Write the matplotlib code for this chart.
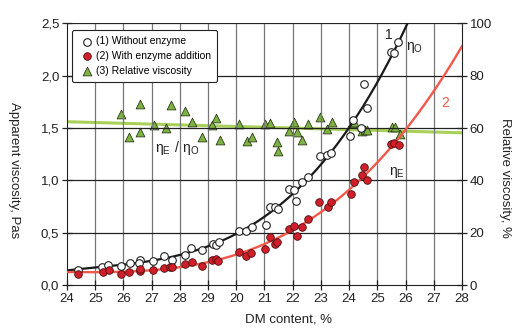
import numpy as np
import matplotlib
matplotlib.use("Agg")
import matplotlib.pyplot as plt

plt.rcParams['font.family'] = ['Liberation Sans', 'DejaVu Sans']
plt.rcParams['mathtext.fontset'] = 'custom'
plt.rcParams['mathtext.rm'] = 'Liberation Sans'

# x positions on the DM axis (ticks 24..38 are labelled as printed below)
tick_pos = np.arange(24, 39)
tick_labels = ['24', '25', '26', '27', '28', '29', '20', '21', '22', '23',
               '24', '25', '26', '27', '28']

# (1) without enzyme, apparent viscosity, Pas
x_noenz = [24.4, 25.23, 25.46, 25.9, 26.23, 26.58, 26.57, 27.05, 27.44, 27.74,
           28.2, 28.4, 28.8, 29.17, 29.27, 29.38, 30.09, 30.35, 30.55, 31.06,
           31.18, 31.39, 31.47, 31.86, 32.04, 32.12, 32.33, 32.53, 32.97, 33.21,
           33.36, 34.04, 34.12, 34.41, 34.65, 34.51, 35.48, 35.59, 35.75]
y_noenz = [0.14, 0.175, 0.19, 0.18, 0.21, 0.24, 0.21, 0.23, 0.28, 0.24,
           0.29, 0.35, 0.33, 0.39, 0.38, 0.41, 0.52, 0.52, 0.55, 0.57,
           0.75, 0.75, 0.73, 0.92, 0.91, 0.80, 0.98, 1.03, 1.23, 1.24,
           1.26, 1.42, 1.58, 1.50, 1.69, 1.92, 2.23, 2.22, 2.32]

# (2) with enzyme addition, apparent viscosity, Pas
x_enz = [24.4, 25.26, 25.5, 25.93, 26.19, 26.58, 26.58, 27.05, 27.44, 27.66,
         27.74, 28.2, 28.43, 28.8, 29.14, 29.27, 29.37, 30.09, 30.35, 30.53,
         31.03, 31.2, 31.39, 31.43, 31.88, 32.06, 32.14, 32.33, 32.53, 32.94,
         33.24, 33.36, 34.08, 34.16, 34.45, 34.53, 34.65, 35.48, 35.6, 35.77]
y_enz = [0.11, 0.12, 0.14, 0.11, 0.12, 0.13, 0.15, 0.14, 0.16, 0.17,
         0.175, 0.20, 0.22, 0.185, 0.24, 0.25, 0.23, 0.32, 0.28, 0.31,
         0.34, 0.46, 0.39, 0.41, 0.535, 0.56, 0.47, 0.55, 0.63, 0.79,
         0.75, 0.79, 0.87, 0.98, 1.05, 1.13, 1.00, 1.35, 1.36, 1.34]

# (3) relative viscosity, %
x_rel = [25.93, 26.58, 26.2, 26.6, 27.09, 27.5, 27.68, 28.2, 28.44, 28.8,
         29.15, 29.27, 29.41, 30.11, 30.39, 30.55, 31.03, 31.2, 31.45, 31.47,
         31.86, 32.04, 32.15, 32.33, 32.53, 32.97, 33.21, 33.39, 34.1, 34.18,
         34.47, 34.56, 34.65, 35.51, 35.62, 35.8]
y_rel = [65.3, 69.1, 56.5, 58.4, 61.2, 59.9, 68.8, 66.7, 62.2, 56.5,
         61.2, 63.7, 55.5, 61.4, 55.1, 56.7, 61.4, 62.1, 54.8, 51.4,
         59.0, 62.2, 58.6, 55.5, 61.6, 64.4, 59.5, 62.2, 61.8, 62.5,
         59.0, 59.2, 59.2, 60.5, 60.5, 57.7]

# trend lines fitted to the measurements
fit_noenz = np.poly1d(np.polyfit(x_noenz, y_noenz, 3))
fit_enz = np.poly1d(np.polyfit(x_enz, y_enz, 3))
fit_rel = np.poly1d(np.polyfit(x_rel, y_rel, 1))

fig = plt.figure(figsize=(5.16, 3.29), dpi=100)
ax = fig.add_axes([0.1298, 0.1337, 0.7655, 0.7949])
ax2 = ax.twinx()

xs = np.linspace(24, 38, 300)

ax.set_xlim(24, 38)
ax.set_ylim(0, 2.5)
ax2.set_ylim(0, 100)

# grid: grey verticals, black horizontals
for xv in tick_pos[1:-1]:
    ax.axvline(xv, color='#777777', lw=0.9, zorder=0)
for yv in np.arange(0.5, 2.51, 0.5):
    ax.axhline(yv, color='#222222', lw=0.9, zorder=0)

ax2.plot(xs, fit_rel(xs), color='#a9d15a', lw=2.2, zorder=2)
ax2.scatter(x_rel, y_rel, marker='^', s=40, facecolor='#7cb342',
            edgecolor='#2f3a1a', lw=0.6, zorder=3)

ax.plot(xs, fit_noenz(xs), color='#1a1a1a', lw=1.6, zorder=4)
ax.plot(xs, fit_enz(xs), color='#f2584a', lw=1.7, zorder=4)
ax.scatter(x_noenz, y_noenz, s=30, facecolor='white', edgecolor='#222222',
           lw=0.8, zorder=5)
ax.scatter(x_enz, y_enz, s=30, facecolor='#d01f2a', edgecolor='#4a1010',
           lw=0.6, zorder=5)

ax.set_zorder(ax2.get_zorder() + 1)
ax.patch.set_visible(False)

ax.set_xticks(tick_pos)
ax.set_xticklabels(tick_labels)
ax.set_yticks(np.arange(0, 2.51, 0.5))
ax.set_yticklabels(['0,0', '0,5', '1,0', '1,5', '2,0', '2,5'])
ax2.set_yticks(np.arange(0, 101, 20))

for a in (ax, ax2):
    a.tick_params(direction='inout', length=7, width=0.9, labelsize=9.5,
                  colors='#222222', pad=2)
    for s in a.spines.values():
        s.set_visible(False)
ax.spines['bottom'].set_visible(True)
ax.spines['bottom'].set_color('#222222')
ax.spines['left'].set_visible(True)
ax.spines['left'].set_color('#222222')
ax2.spines['right'].set_visible(True)
ax2.spines['right'].set_color('#222222')

ax.set_xlabel('DM content, %', fontsize=9.5, color='#222222')
ax.xaxis.set_label_coords(0.56, -0.11)
ax.set_ylabel('Apparent viscosity, Pas', fontsize=9.5, rotation=270,
              color='#222222', va='center')
ax.yaxis.set_label_coords(-0.135, 0.44)
ax2.set_ylabel('Relative viscosity, %', fontsize=9.5, rotation=270,
               color='#222222', va='center')
ax2.yaxis.set_label_coords(1.11, 0.41)

# curve labels
ax.text(35.4, 2.39, '1', fontsize=10, color='#222222', ha='center', va='center')
ax.text(36.3, 2.27, r'$\mathrm{\eta_O}$', fontsize=10, color='#222222',
        ha='center', va='center')
ax.text(37.4, 1.74, '2', fontsize=10, color='#f2584a', ha='center', va='center')
ax.text(35.7, 1.08, r'$\mathrm{\eta_E}$', fontsize=10, color='#222222',
        ha='center', va='center')
ax.text(27.9, 1.31, r'$\mathrm{\eta_E\ /\ \eta_O}$', fontsize=10,
        color='#222222', ha='center', va='center')

# legend
h1 = ax.scatter([], [], s=30, facecolor='white', edgecolor='#222222', lw=0.8)
h2 = ax.scatter([], [], s=30, facecolor='#d01f2a', edgecolor='#4a1010', lw=0.6)
h3 = ax.scatter([], [], marker='^', s=40, facecolor='#7cb342',
                edgecolor='#2f3a1a', lw=0.6)
leg = ax.legend([h1, h2, h3],
                ['(1) Without enzyme', '(2) With enzyme addition',
                 '(3) Relative viscosity'],
                loc='upper left', bbox_to_anchor=(0.0, 0.995), fontsize=7.5,
                frameon=True, fancybox=True, handletextpad=0.1,
                borderpad=0.6, labelspacing=0.45, handlelength=1.6)
leg.get_frame().set_edgecolor('#222222')
leg.get_frame().set_linewidth(0.8)
leg.get_frame().set_alpha(1)

fig.savefig('out.png', dpi=100)
